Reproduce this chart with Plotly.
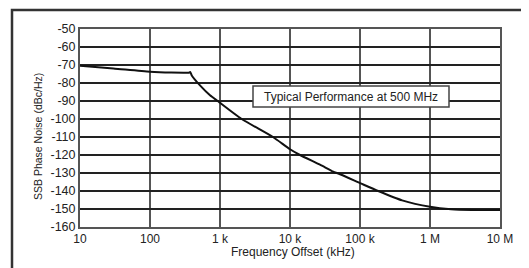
import plotly.graph_objects as go

# Data
freq_khz = [10, 30, 100, 200, 300, 360, 375, 395, 518, 720, 927, 1000, 2040, 5710,
            10000, 13900, 26800, 41600, 49000, 100000, 182000, 400000, 1000000,
            2000000, 4000000, 10000000]
phase_noise = [-70.4, -71.9, -73.7, -74.2, -74.3, -74.3, -73.9, -75.8, -81.3, -86.8,
               -90.0, -91.0, -100.0, -110.0, -116.8, -120.0, -125.4, -129.3, -130.3,
               -135.6, -140.0, -145.2, -148.8, -150.2, -150.6, -150.6]

x_tickvals = [10, 100, 1000, 10000, 100000, 1000000, 10000000]
x_ticktext = ["10", "100", "1 k", "10 k", "100 k", "1 M", "10 M"]
y_tickvals = list(range(-160, -40, 10))
y_ticktext = [str(v) for v in y_tickvals]

FONT = "Liberation Sans, Arial, sans-serif"

fig = go.Figure()
fig.add_trace(go.Scatter(x=freq_khz, y=phase_noise, mode="lines",
                         line=dict(color="#111", width=2, shape="spline", smoothing=0.6),
                         showlegend=False))

# page has an 8px body margin; compensate so the plot area lands at page x 80..500, y 29..227
OFF = 8
W, H = 529 - OFF, 268 - OFF
PL, PR, PT, PB = 80, 500, 29, 227
L, T = PL - OFF, PT - OFF
R = W - (PR - OFF)
B = H - (PB - OFF)
pw, ph = PR - PL, PB - PT

def px(x):
    return (x - PL) / pw

def py(y):
    return (PB - y) / ph

fig.update_layout(
    width=W, height=H,
    margin=dict(l=L, r=R, t=T, b=B, autoexpand=False),
    paper_bgcolor="white", plot_bgcolor="white",
    font=dict(family=FONT, size=12, color="#222"),
    xaxis=dict(type="log", range=[1, 7], tickvals=x_tickvals, ticktext=x_ticktext,
               showgrid=True, gridcolor="#555", gridwidth=2,
               showline=True, linecolor="#555", linewidth=2, mirror=True,
               ticks="", zeroline=False, tickfont=dict(size=12)),
    yaxis=dict(range=[-160, -50], tickvals=y_tickvals, ticktext=y_ticktext,
               showgrid=True, gridcolor="#222", gridwidth=1.5,
               showline=True, linecolor="#555", linewidth=2, mirror=True,
               ticks="", zeroline=False, tickfont=dict(size=12.5)),
    shapes=[
        # outer frame (cut off at right/bottom)
        dict(type="rect", xref="paper", yref="paper",
             x0=px(12), x1=px(560), y0=py(300), y1=py(10),
             line=dict(color="#333", width=2.5), layer="below"),
        # annotation box
        dict(type="rect", xref="paper", yref="paper",
             x0=px(253), x1=px(449), y0=py(107), y1=py(86),
             line=dict(color="#444", width=1.5), fillcolor="white", layer="above"),
    ],
    annotations=[
        dict(text="Typical Performance at 500 MHz", xref="paper", yref="paper",
             x=px(351), y=py(96.5), showarrow=False, xanchor="center", yanchor="middle",
             font=dict(size=12, color="#222")),
        dict(text="SSB Phase Noise (dBc/Hz)", xref="paper", yref="paper",
             x=px(38), y=py(137), showarrow=False, textangle=-90,
             xanchor="center", yanchor="middle", font=dict(size=10.5, color="#222")),
        dict(text="Frequency Offset (kHz)", xref="paper", yref="paper",
             x=px(293), y=py(251.5), showarrow=False,
             xanchor="center", yanchor="middle", font=dict(size=12, color="#222")),
    ],
)

fig.write_html("out.html")
